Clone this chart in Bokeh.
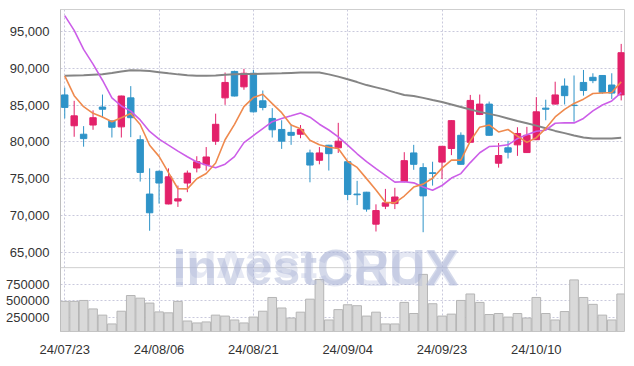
import numpy as np
from bokeh.plotting import figure
from bokeh.models import (FixedTicker, Range1d, ColumnDataSource, Label, Span, Grid,
                          CustomJSTickFormatter)
from bokeh.embed import file_html
from bokeh.resources import INLINE

# ---- data ----
tick_idx = [0, 10, 20, 30, 40, 50]
tick_labels = ["24/07/23", "24/08/06", "24/08/21", "24/09/04", "24/09/23", "24/10/10"]
price_ticks = [65000, 70000, 75000, 80000, 85000, 90000, 95000]
volume_ticks = [250000, 500000, 750000]

opens = [86400, 82200, 81050, 82300, 84750, 82850, 82050, 86000, 80300, 72900,
         76000, 71550, 71950, 74400, 76450, 76900, 80100, 86000, 89600, 87500,
         89350, 85600, 83200, 81700, 81300, 81050, 78500, 77500, 79550, 79200,
         77300, 72900, 73150, 68800, 71250, 71600, 74600, 78500, 76500, 75800,
         77250, 79100, 80900, 79950, 83750, 85150, 77100, 79200, 79600, 78550,
         80300, 84600, 85150, 87600, 85000, 88100, 88800, 89050, 87750, 86400]
highs = [87400, 85600, 82150, 84300, 86450, 82900, 86300, 87600, 80900, 76400,
         76100, 76400, 74050, 76100, 78050, 79300, 83850, 89450, 89700, 89950,
         89800, 87000, 84600, 82950, 82400, 82300, 78950, 79300, 79600, 82600,
         77400, 74700, 73200, 71500, 73600, 73750, 78600, 79600, 77100, 77300,
         79450, 82950, 81300, 86400, 86450, 85500, 79850, 80150, 82000, 82050,
         86100, 85750, 88200, 88650, 89050, 89800, 89350, 89100, 89350, 93350]
lows = [83200, 80700, 79350, 81650, 83300, 80600, 80600, 80650, 74600, 67900,
        71600, 71500, 71150, 73150, 75850, 76100, 79600, 85050, 86200, 87100,
        84000, 84300, 80600, 79050, 79600, 80500, 74500, 76950, 76100, 78500,
        72050, 71400, 70500, 67800, 70850, 70850, 74500, 76200, 67700, 74050,
        74950, 78200, 76900, 79900, 83650, 80850, 76500, 77750, 78100, 78500,
        80250, 82950, 85100, 85100, 82750, 86300, 88000, 86550, 85850, 85650]
closes = [84700, 83550, 80450, 83300, 84450, 82000, 86250, 83300, 75850, 70350,
          74400, 75250, 72250, 75750, 77300, 77950, 82400, 88100, 86250, 89350,
          84100, 84700, 81650, 80100, 80900, 81700, 76850, 78500, 78400, 80100,
          72850, 72800, 70850, 70650, 71700, 72500, 77450, 76950, 72650, 75700,
          79400, 82900, 76950, 85650, 85150, 80900, 78150, 78600, 81150, 80900,
          84100, 84450, 86400, 86300, 84950, 87000, 88350, 86750, 86650, 92150]
volumes = [493000, 493000, 507000, 381000, 289000, 158000, 347000, 580000, 541000, 468000,
           337000, 323000, 493000, 202000, 173000, 188000, 289000, 275000, 217000, 173000,
           260000, 347000, 551000, 395000, 246000, 333000, 526000, 817000, 217000, 371000,
           443000, 429000, 275000, 333000, 158000, 158000, 478000, 313000, 894000, 458000,
           275000, 304000, 507000, 603000, 478000, 298000, 313000, 260000, 313000, 246000,
           551000, 313000, 217000, 342000, 812000, 551000, 449000, 289000, 217000, 603000]
ma5 = [89000, 86300, 84800, 83900, 83400, 82750, 83290, 83860, 82370, 79550,
       78030, 75830, 73620, 73600, 74990, 75700, 77130, 80300, 82400, 84810,
       86040, 86500, 85210, 83980, 82290, 81810, 80240, 79610, 79270, 79110,
       77340, 76530, 75000, 73450, 71770, 71700, 72630, 73850, 74250, 75050,
       76430, 77520, 77520, 80120, 82010, 82310, 81360, 81690, 80790, 79940,
       80580, 81840, 83400, 84430, 85240, 85820, 86600, 86670, 86740, 88180]
ma10 = [97200, 95200, 92600, 90600, 88400, 86000, 84900, 84200, 83000, 81420,
        80390, 79560, 78740, 77985, 77270, 76865, 76480, 76960, 78000, 79900,
        80870, 81815, 82755, 83190, 83550, 83925, 83370, 82410, 81625, 80700,
        79575, 78385, 77305, 76360, 75440, 74520, 74580, 74425, 73850, 73410,
        74065, 75075, 75685, 77185, 78530, 79370, 79440, 79605, 80455, 80975,
        81445, 81600, 82545, 82610, 82590, 83200, 84220, 85035, 85585, 86710]
ma60 = [89000, 89050, 89080, 89150, 89210, 89400, 89600, 89750, 89720, 89660,
        89500, 89340, 89200, 89080, 89020, 89000, 89050, 89150, 89200, 89250,
        89260, 89290, 89320, 89340, 89400, 89440, 89440, 89440, 89200, 88890,
        88540, 88150, 87740, 87430, 87120, 86750, 86400, 86250, 86000, 85700,
        85430, 85100, 84760, 84420, 84090, 83820, 83550, 83200, 82840, 82530,
        82220, 81860, 81500, 81200, 80880, 80610, 80480, 80470, 80480, 80570]

# ---- styles / layout ----
RED = "#e3216a"
BLUE = "#2e93c8"
GRID = "#c9c9dc"
FONT = "Liberation Sans"
LABEL_COLOR = "#333333"
BORDER = "#cfcfcf"

# price scale covers the whole frame; the lower band below DIVIDER holds volume
P_LO, P_HI = 54180, 98035
DIVIDER = 62874
V_LO, V_HI = 45900, 4827000

n = len(closes)
xs = np.arange(n)
o = np.array(opens); c = np.array(closes)
src = ColumnDataSource(dict(
    x=xs, o=o, c=c, h=highs, l=lows,
    top=np.maximum(o, c), bottom=np.minimum(o, c),
    color=[RED if cc >= oo else BLUE for oo, cc in zip(opens, closes)],
    vol=volumes,
))

p = figure(width=626, height=359, x_range=Range1d(-0.45, 59.35),
           y_range=Range1d(P_LO, P_HI), output_backend="svg", toolbar_location=None,
           min_border_left=60, min_border_right=2, min_border_top=9, min_border_bottom=22)
p.extra_y_ranges = {"vol": Range1d(V_LO, V_HI)}

p.outline_line_color = BORDER
p.background_fill_color = "white"
p.border_fill_color = "white"

# left axis: price ticks in the upper band, volume ticks (mapped through the ranges) below
vol_tick_pos = [P_LO + (v - V_LO) / (V_HI - V_LO) * (P_HI - P_LO) for v in volume_ticks]
p.yaxis.ticker = FixedTicker(ticks=price_ticks + vol_tick_pos)
p.yaxis.formatter = CustomJSTickFormatter(
    args=dict(div=DIVIDER, plo=P_LO, phi=P_HI, vlo=V_LO, vhi=V_HI),
    code="""
    if (tick > div) {
        return Math.round(tick).toString().replace(/\\B(?=(\\d{3})+(?!\\d))/g, ",");
    }
    const v = vlo + (tick - plo) * (vhi - vlo) / (phi - plo);
    return String(Math.round(v / 1000) * 1000);
    """)
p.yaxis.major_tick_line_color = None
p.yaxis.minor_tick_line_color = None
p.yaxis.axis_line_color = "#bdbdbd"
p.yaxis.major_label_standoff = 5
p.yaxis.major_label_text_font = FONT
p.yaxis.major_label_text_font_size = "13px"
p.yaxis.major_label_text_color = LABEL_COLOR

p.xaxis.ticker = FixedTicker(ticks=tick_idx)
p.xaxis.major_label_overrides = {t: lab for t, lab in zip(tick_idx, tick_labels)}
p.xaxis.major_tick_line_color = None
p.xaxis.minor_tick_line_color = None
p.xaxis.axis_line_color = None
p.xaxis.major_label_standoff = 4
p.xaxis.major_label_text_font = FONT
p.xaxis.major_label_text_font_size = "13px"
p.xaxis.major_label_text_color = LABEL_COLOR

p.xgrid.ticker = FixedTicker(ticks=tick_idx)
p.xgrid.grid_line_color = GRID
p.xgrid.grid_line_dash = "2 2"
p.ygrid.ticker = FixedTicker(ticks=price_ticks)
p.ygrid.grid_line_color = GRID
p.ygrid.grid_line_dash = "2 2"
p.add_layout(Grid(dimension=1, y_range_name="vol", ticker=FixedTicker(ticks=volume_ticks),
                  grid_line_color=GRID, grid_line_dash="2 2"))

# panel divider
p.add_layout(Span(location=DIVIDER, dimension="width", line_color=BORDER, line_width=1))

# volume bars
p.vbar(x="x", width=0.92, top="vol", bottom=0, y_range_name="vol", fill_color="#d9d9d9",
       line_color="#b5b5b5", line_width=1, source=src)

# candles
p.segment(x0="x", y0="h", x1="x", y1="l", color="color", line_width=1, source=src)
p.vbar(x="x", width=0.68, top="top", bottom="bottom", fill_color="color",
       line_color="color", line_width=1, source=src)

# moving averages
p.line(xs, ma60, line_color="#858585", line_width=2)
p.line(xs, ma10, line_color="#cc5ee8", line_width=1.6)
p.line(xs, ma5, line_color="#ef8a4e", line_width=1.6)

# watermark and its reflection
p.add_layout(Label(x=26.6, y=DIVIDER, text="investCRUX", text_font=FONT,
                   text_font_style="bold", text_font_size="50px",
                   text_color="#aab3d6", text_alpha=0.5,
                   text_align="center", text_baseline="alphabetic"))
p.add_layout(Label(x=26.6, y=DIVIDER, text="XURCtsevni", text_font=FONT,
                   text_font_style="bold", text_font_size="50px",
                   text_color="#aab3d6", text_alpha=0.3, angle=np.pi,
                   text_align="center", text_baseline="alphabetic"))

open("out.html", "w").write(file_html(p, INLINE))
